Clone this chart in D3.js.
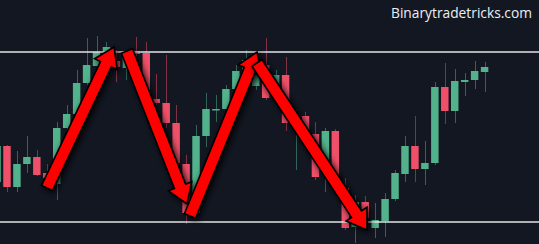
<!DOCTYPE html>
<html>
<head>
<meta charset="utf-8">
<script src="https://cdn.jsdelivr.net/npm/d3@7"></script>
<style>
  html, body { margin: 0; padding: 0; background: #131722; }
  svg { display: block; }
</style>
</head>
<body>
<div id="chart"></div>
<script>
// candle index (-1 is the one cut off at the left edge)
const bars = d3.range(-1, 49);

const open  = [1.0890, 1.0926, 1.0885, 1.0908, 1.0915, 1.0899, 1.0888, 1.0944, 1.0958, 1.0989,
               1.1006, 1.1020, 1.1011, 1.1004, 1.1021, 1.1019, 1.0973, 1.0969, 1.0949, 1.0908,
               1.0859, 1.0936, 1.0962, 1.0963, 1.0983, 1.1001, 1.0986, 1.1007, 1.0987, 1.0997,
               1.0944, 1.0956, 1.0938, 1.0909, 1.0941, 1.0884, 1.0845, 1.0870, 1.0844, 1.0851,
               1.0873, 1.0898, 1.0926, 1.0903, 1.0909, 1.0985, 1.0961, 1.0990, 1.0992, 1.1000];
const high  = [1.0932, 1.0927, 1.0921, 1.0936, 1.0922, 1.0908, 1.0950, 1.0967, 1.1002, 1.1034,
               1.1036, 1.1030, 1.1022, 1.1022, 1.1035, 1.1030, 1.0998, 1.1017, 1.0967, 1.0917,
               1.0947, 1.0979, 1.0977, 1.0987, 1.1007, 1.1022, 1.1006, 1.1034, 1.1002, 1.1015,
               1.0962, 1.0960, 1.0950, 1.0944, 1.0943, 1.0894, 1.0877, 1.0876, 1.0869, 1.0879,
               1.0902, 1.0936, 1.0956, 1.0931, 1.0990, 1.1009, 1.1003, 1.0999, 1.1011, 1.1010];
const low   = [1.0886, 1.0880, 1.0880, 1.0899, 1.0896, 1.0890, 1.0872, 1.0942, 1.0954, 1.0987,
               1.1004, 1.1016, 1.0990, 1.0992, 1.1016, 1.0972, 1.0967, 1.0944, 1.0904, 1.0848,
               1.0854, 1.0925, 1.0950, 1.0960, 1.0980, 1.0998, 1.0982, 1.0972, 1.0984, 1.0941,
               1.0902, 1.0930, 1.0892, 1.0880, 1.0887, 1.0842, 1.0829, 1.0850, 1.0834, 1.0835,
               1.0871, 1.0890, 1.0890, 1.0887, 1.0907, 1.0948, 1.0949, 1.0976, 1.0983, 1.0980];
const close = [1.0926, 1.0885, 1.0908, 1.0915, 1.0897, 1.0894, 1.0944, 1.0958, 1.0989, 1.1007,
               1.1020, 1.1025, 1.1005, 1.1016, 1.1018, 1.0977, 1.0969, 1.0949, 1.0909, 1.0859,
               1.0936, 1.0963, 1.0963, 1.0983, 1.1001, 1.1012, 1.0997, 1.0974, 1.0997, 1.0949,
               1.0954, 1.0933, 1.0895, 1.0941, 1.0892, 1.0844, 1.0870, 1.0854, 1.0852, 1.0873,
               1.0899, 1.0926, 1.0903, 1.0909, 1.0985, 1.0961, 1.0991, 1.0992, 1.1001, 1.1005];

// support / resistance levels
const levels = [1.1020, 1.0850];

// hand-drawn arrows: [from index, from price] -> [to index, to price]
const arrows = [
  [[4.02, 1.0884], [10.76, 1.1025]],
  [[12.06, 1.1021], [18.09, 1.0868]],
  [[18.39, 1.0856], [25.13, 1.1020]],
  [[25.13, 1.1009], [36.18, 1.0842]]
];

const watermark = 'Binarytradetricks.com';

const width = 539, height = 244;
const green = '#52b28b', red = '#ef5069';

const svg = d3.select('#chart').append('svg')
  .attr('width', width)
  .attr('height', height);

svg.append('rect')
  .attr('width', width)
  .attr('height', height)
  .attr('fill', '#131722');

const defs = svg.append('defs');
const shadow = defs.append('filter')
  .attr('id', 'shadow')
  .attr('x', '-30%').attr('y', '-30%')
  .attr('width', '160%').attr('height', '160%');
shadow.append('feDropShadow')
  .attr('dx', 2).attr('dy', 2)
  .attr('stdDeviation', 3)
  .attr('flood-color', '#000')
  .attr('flood-opacity', 0.9);

const step = 9.95;
const x = d3.scaleBand()
  .domain(bars)
  .range([-7.945, -7.945 + bars.length * step])
  .paddingInner(0.25)
  .paddingOuter(0.125);

const y = d3.scaleLinear()
  .domain([levels[1], levels[0]])
  .range([222, 52]);

const cx = i => x(i) + x.bandwidth() / 2;
const xi = v => {
  // fractional index position for the arrows
  const a = Math.floor(v);
  return cx(a) + (v - a) * step;
};

const candles = bars.map((b, k) => ({
  i: b, o: open[k], h: high[k], l: low[k], c: close[k]
}));

const g = svg.append('g');

g.selectAll('line.wick')
  .data(candles)
  .join('line')
  .attr('class', 'wick')
  .attr('x1', d => Math.round(cx(d.i)) + 0.5)
  .attr('x2', d => Math.round(cx(d.i)) + 0.5)
  .attr('y1', d => y(d.h))
  .attr('y2', d => y(d.l))
  .attr('stroke', d => d.c >= d.o ? green : red)
  .attr('stroke-opacity', 0.5)
  .attr('stroke-width', 1);

g.selectAll('rect.body')
  .data(candles)
  .join('rect')
  .attr('class', 'body')
  .attr('x', d => x(d.i))
  .attr('width', x.bandwidth())
  .attr('y', d => y(Math.max(d.o, d.c)))
  .attr('height', d => Math.max(1.5, Math.abs(y(d.o) - y(d.c))))
  .attr('fill', d => d.c >= d.o ? green : red);

svg.selectAll('line.level')
  .data(levels)
  .join('line')
  .attr('class', 'level')
  .attr('x1', 0)
  .attr('x2', width)
  .attr('y1', d => y(d))
  .attr('y2', d => y(d))
  .attr('stroke', '#e4e4e6')
  .attr('stroke-width', 1.6);

// arrow outline polygon
function arrowPath(p0, p1) {
  const x0 = xi(p0[0]), y0 = y(p0[1]);
  const x1 = xi(p1[0]), y1 = y(p1[1]);
  const len = Math.hypot(x1 - x0, y1 - y0);
  const ux = (x1 - x0) / len, uy = (y1 - y0) / len;
  const px = -uy, py = ux;
  const sw = 6, hw = 12.5, hl = 19;
  const bx = x1 - ux * hl, by = y1 - uy * hl;
  const pts = [
    [x0 + px * sw, y0 + py * sw],
    [bx + px * sw, by + py * sw],
    [bx + px * hw, by + py * hw],
    [x1, y1],
    [bx - px * hw, by - py * hw],
    [bx - px * sw, by - py * sw],
    [x0 - px * sw, y0 - py * sw]
  ];
  return d3.line()(pts) + 'Z';
}

svg.append('g')
  .selectAll('path.arrow')
  .data(arrows)
  .join('path')
  .attr('class', 'arrow')
  .attr('d', d => arrowPath(d[0], d[1]))
  .attr('fill', '#ff0000')
  .attr('stroke', '#000')
  .attr('stroke-width', 1.6)
  .attr('stroke-linejoin', 'miter')
  .attr('filter', 'url(#shadow)');

svg.append('text')
  .attr('x', 532)
  .attr('y', 18)
  .attr('text-anchor', 'end')
  .attr('fill', '#eceff3')
  .attr('font-family', 'Open Sans, sans-serif')
  .attr('font-size', 14.5)
  .attr('font-weight', 500)
  .attr('textLength', 141)
  .attr('lengthAdjust', 'spacingAndGlyphs')
  .text(watermark);
</script>
</body>
</html>
